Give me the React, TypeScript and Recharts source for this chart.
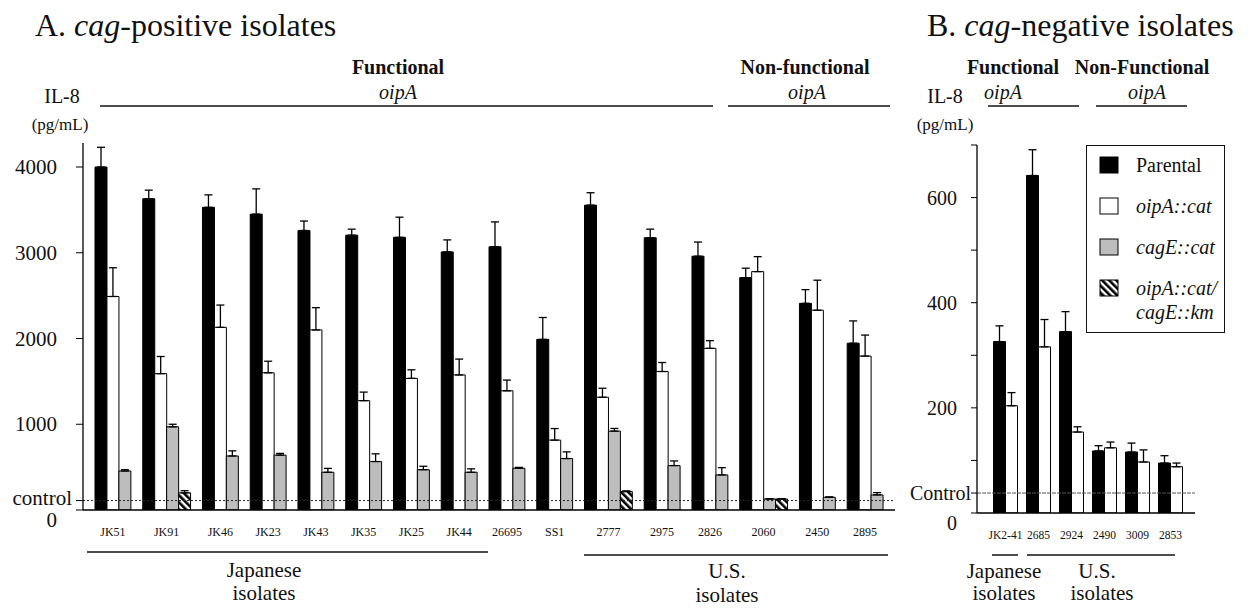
import React from 'react';
import { BarChart, Bar, XAxis, YAxis, ErrorBar, Cell, ReferenceLine } from 'recharts';

const FONT = '"Liberation Serif", "Times New Roman", Times, serif';
const INK = '#111';

// ---------- Panel A: cag-positive isolates ----------
const groupsA = ['JK51', 'JK91', 'JK46', 'JK23', 'JK43', 'JK35', 'JK25', 'JK44', '26695', 'SS1', '2777', '2975', '2826', '2060', '2450', '2895'];
const parentalA = [4000, 3630, 3530, 3450, 3260, 3205, 3180, 3010, 3070, 1990, 3555, 3175, 2960, 2710, 2410, 1945];
const parentalErrA = [230, 100, 145, 295, 110, 70, 235, 140, 290, 255, 145, 100, 165, 110, 160, 260];
const oipACatA = [2490, 1590, 2130, 1600, 2100, 1275, 1535, 1575, 1390, 815, 1315, 1615, 1885, 2780, 2330, 1795];
const oipACatErrA = [335, 200, 260, 135, 260, 100, 100, 185, 125, 135, 105, 105, 90, 175, 350, 245];
const cagECatA = [455, 970, 630, 640, 440, 565, 470, 440, 487, 600, 920, 518, 409, 128, 148, 176];
const cagECatErrA = [15, 30, 60, 20, 45, 90, 40, 40, 10, 78, 31, 54, 85, 4, 5, 27];
const doubleA: (number | null)[] = [null, 200, null, null, null, null, null, null, null, null, 215, null, null, 128, null, null];
const doubleErrA = [0, 25, 0, 0, 0, 0, 0, 0, 0, 0, 8, 0, 0, 4, 0, 0];
const controlA = 110;
const yTicksA = [0, controlA, 1000, 2000, 3000, 4000];

// ---------- Panel B: cag-negative isolates ----------
const groupsB = ['JK2-41', '2685', '2924', '2490', '3009', '2853'];
const parentalB = [326, 642, 345, 118, 116, 95];
const parentalErrB = [30, 49, 38, 10, 17, 14];
const oipACatB = [204, 316, 154, 124, 97, 88];
const oipACatErrB = [25, 52, 10, 11, 23, 7];
const controlB = 38;
const yTicksB = [0, controlB, 100, 200, 300, 400, 500, 600, 700];
const yLabelsB = [200, 400, 600];

// ---------- Legend ----------
type Kind = 'parental' | 'oipA' | 'cagE' | 'double' | 'gap';
const legendKinds: Kind[] = ['parental', 'oipA', 'cagE', 'double'];
const legendLines = [['Parental'], ['oipA::cat'], ['cagE::cat'], ['oipA::cat/', 'cagE::km']];
const legendItalic = [false, true, true, true];

const FILLS: Record<Kind, string> = {
  parental: '#000',
  oipA: '#fff',
  cagE: '#bdbdbd',
  double: 'url(#hatchA)',
  gap: 'none',
};

interface SlotRow {
  slot: string;
  value: number | null;
  err: [number, number] | null;
  kind: Kind;
  label: string;
  shift: boolean;
}

function buildRowsA(): SlotRow[] {
  const rows: SlotRow[] = [];
  groupsA.forEach((g, i) => {
    const bars: { kind: Kind; v: number; e: number }[] = [
      { kind: 'parental', v: parentalA[i], e: parentalErrA[i] },
      { kind: 'oipA', v: oipACatA[i], e: oipACatErrA[i] },
      { kind: 'cagE', v: cagECatA[i], e: cagECatErrA[i] },
    ];
    const d = doubleA[i];
    if (d !== null) bars.push({ kind: 'double', v: d, e: doubleErrA[i] });
    const even = bars.length % 2 === 0;
    const labelAt = even ? bars.length / 2 - 1 : (bars.length - 1) / 2;
    bars.forEach((b, j) =>
      rows.push({
        slot: `${g}#${j}`,
        value: b.v,
        err: [0, b.e],
        kind: b.kind,
        label: j === labelAt ? g : '',
        shift: j === labelAt && even,
      })
    );
    if (i < groupsA.length - 1) {
      rows.push({ slot: `gap#${i}`, value: null, err: null, kind: 'gap', label: '', shift: false });
    }
  });
  return rows;
}

const rowsA = buildRowsA();
const rowBySlot = new Map(rowsA.map((r) => [r.slot, r]));

const rowsB = groupsB.map((g, i) => ({
  name: g,
  parental: parentalB[i],
  parentalErr: [0, parentalErrB[i]],
  oipA: oipACatB[i],
  oipAErr: [0, oipACatErrB[i]],
}));

function HatchDefs({ id }: { id: string }) {
  return (
    <defs>
      <pattern id={id} patternUnits="userSpaceOnUse" width={5} height={5} patternTransform="rotate(-45)">
        <rect x={0} y={0} width={5} height={5} fill="#fff" />
        <rect x={0} y={0} width={2.6} height={5} fill="#000" />
      </pattern>
    </defs>
  );
}

function XTickA(props: any) {
  const { x, y, payload } = props;
  const row = rowBySlot.get(payload?.value);
  if (!row || !row.label) return null;
  const off = row.shift ? Number(payload?.offset ?? 0) : 0;
  return (
    <text x={x + off} y={y} dy={26} textAnchor="middle" fontSize={12} style={{ fontFamily: FONT }} fill={INK}>
      {row.label}
    </text>
  );
}

function YTickA(props: any) {
  const { x, y, payload } = props;
  const v = payload.value;
  let label = String(v);
  let dy = 7;
  let dx = 0;
  if (v === controlA) {
    label = 'control';
    dy = 4;
    dx = 15;
  } else if (v === 0) {
    dy = 17;
  }
  return (
    <text x={x + dx} y={y} dy={dy} textAnchor="end" fontSize={21} style={{ fontFamily: FONT }} fill={INK}>
      {label}
    </text>
  );
}

function XTickB(props: any) {
  const { x, y, payload } = props;
  return (
    <text x={x} y={y} dy={26} textAnchor="middle" fontSize={11.5} style={{ fontFamily: FONT }} fill={INK}>
      {payload.value}
    </text>
  );
}

function YTickB(props: any) {
  const { x, y, payload } = props;
  const v = payload.value;
  let label = '';
  let dy = 7;
  let dx = 0;
  if (v === controlB) {
    label = 'Control';
    dy = 7;
    dx = 14;
  } else if (v === 0) {
    label = '0';
    dy = 17;
  } else if (yLabelsB.includes(v)) {
    label = String(v);
  } else {
    return null;
  }
  return (
    <text x={x + dx} y={y} dy={dy} textAnchor="end" fontSize={20} style={{ fontFamily: FONT }} fill={INK}>
      {label}
    </text>
  );
}

function PanelA() {
  return (
    <div style={{ position: 'absolute', left: 0, top: 0 }}>
      <BarChart
        width={910}
        height={608}
        data={rowsA}
        margin={{ top: 143, right: 15, bottom: 68, left: 0 }}
        barCategoryGap={0}
        barGap={0}
      >
        <HatchDefs id="hatchA" />
        <XAxis
          dataKey="slot"
          type="category"
          interval={0}
          padding={{ left: 12, right: 12 }}
          height={30}
          tickLine={false}
          tickSize={0}
          tickMargin={0}
          axisLine={{ stroke: '#000', strokeWidth: 1.5 }}
          tick={XTickA}
        />
        <YAxis
          width={83}
          domain={[0, 4280]}
          ticks={yTicksA}
          interval={0}
          tickSize={7}
          tickMargin={19}
          axisLine={{ stroke: '#000', strokeWidth: 1.3 }}
          tickLine={{ stroke: '#000', strokeWidth: 1 }}
          tick={YTickA}
          allowDataOverflow
        />
        <Bar dataKey="value" isAnimationActive={false} stroke="#000" strokeWidth={1}>
          {rowsA.map((r) => (
            <Cell key={r.slot} fill={FILLS[r.kind]} />
          ))}
          <ErrorBar dataKey="err" width={4} stroke="#000" strokeWidth={1.3} direction="y" />
        </Bar>
        <ReferenceLine y={controlA} stroke="#222" strokeWidth={1} strokeDasharray="2 2" />
      </BarChart>
    </div>
  );
}

function PanelB() {
  return (
    <div style={{ position: 'absolute', left: 900, top: 0 }}>
      <BarChart
        width={310}
        height={608}
        data={rowsB}
        margin={{ top: 145, right: 15, bottom: 65, left: 0 }}
        barCategoryGap={4.5}
        barGap={0}
      >
        <XAxis
          dataKey="name"
          type="category"
          interval={0}
          padding={{ left: 12, right: 8 }}
          height={30}
          tickLine={false}
          tickSize={0}
          tickMargin={0}
          axisLine={{ stroke: '#000', strokeWidth: 1.5 }}
          tick={XTickB}
        />
        <YAxis
          width={77}
          domain={[0, 700]}
          ticks={yTicksB}
          interval={0}
          tickSize={6}
          tickMargin={14}
          axisLine={{ stroke: '#000', strokeWidth: 1.3 }}
          tickLine={{ stroke: '#000', strokeWidth: 1 }}
          tick={YTickB}
          allowDataOverflow
        />
        <Bar dataKey="parental" isAnimationActive={false} fill={FILLS.parental} stroke="#000" strokeWidth={1}>
          <ErrorBar dataKey="parentalErr" width={4} stroke="#000" strokeWidth={1.3} direction="y" />
        </Bar>
        <Bar dataKey="oipA" isAnimationActive={false} fill={FILLS.oipA} stroke="#000" strokeWidth={1}>
          <ErrorBar dataKey="oipAErr" width={4} stroke="#000" strokeWidth={1.3} direction="y" />
        </Bar>
        <ReferenceLine y={controlB} stroke="#555" strokeWidth={1} strokeDasharray="4 1" />
      </BarChart>
    </div>
  );
}

function LegendBox() {
  return (
    <div
      style={{
        position: 'absolute',
        left: 1086,
        top: 145,
        width: 139,
        height: 188,
        border: '1px solid #111',
        boxSizing: 'border-box',
        background: '#fff',
        fontFamily: FONT,
        color: INK,
      }}
    >
      {legendKinds.map((k, i) => {
        const center = 19 + 41 * i;
        return (
          <div key={k}>
            <svg width={20} height={18} style={{ position: 'absolute', left: 12, top: center - 9 }}>
              <HatchDefs id="hatchLegend" />
              <rect
                x={1}
                y={1}
                width={18}
                height={16}
                fill={k === 'double' ? 'url(#hatchLegend)' : FILLS[k]}
                stroke="#000"
                strokeWidth={1}
              />
            </svg>
            {legendLines[i].map((line, j) => (
              <div
                key={line}
                style={{
                  position: 'absolute',
                  left: 49,
                  top: center - 12 + j * 24,
                  fontSize: 20,
                  lineHeight: '24px',
                  fontStyle: legendItalic[i] ? 'italic' : 'normal',
                  whiteSpace: 'nowrap',
                }}
              >
                {line}
              </div>
            ))}
          </div>
        );
      })}
    </div>
  );
}

function Annotations() {
  const line = { stroke: INK, strokeWidth: 1.5 };
  return (
    <svg
      width={1250}
      height={608}
      style={{ position: 'absolute', left: 0, top: 0, pointerEvents: 'none', fontFamily: FONT }}
      fill={INK}
    >
      <text x={35} y={36} fontSize={32}>
        A. <tspan fontStyle="italic">cag</tspan>-positive isolates
      </text>
      <text x={927} y={36} fontSize={32}>
        B. <tspan fontStyle="italic">cag</tspan>-negative isolates
      </text>

      {/* Panel A header */}
      <text x={62} y={103} fontSize={20} textAnchor="middle">IL-8</text>
      <text x={60} y={130} fontSize={17} textAnchor="middle">(pg/mL)</text>
      <text x={398} y={74} fontSize={20} fontWeight="bold" textAnchor="middle">Functional</text>
      <text x={398} y={99} fontSize={20} fontStyle="italic" textAnchor="middle">oipA</text>
      <line x1={100} x2={713} y1={106} y2={106} {...line} />
      <text x={805} y={74} fontSize={20} fontWeight="bold" textAnchor="middle">Non-functional</text>
      <text x={807} y={99} fontSize={20} fontStyle="italic" textAnchor="middle">oipA</text>
      <line x1={728} x2={890} y1={106} y2={106} {...line} />

      {/* Panel B header */}
      <text x={945} y={103} fontSize={20} textAnchor="middle">IL-8</text>
      <text x={945} y={130} fontSize={17} textAnchor="middle">(pg/mL)</text>
      <text x={1013} y={74} fontSize={20} fontWeight="bold" textAnchor="middle">Functional</text>
      <text x={1142} y={74} fontSize={20} fontWeight="bold" textAnchor="middle">Non-Functional</text>
      <text x={1003} y={99} fontSize={20} fontStyle="italic" textAnchor="middle">oipA</text>
      <text x={1147} y={99} fontSize={20} fontStyle="italic" textAnchor="middle">oipA</text>
      <line x1={988} x2={1079} y1={106} y2={106} {...line} />
      <line x1={1096} x2={1187} y1={106} y2={106} {...line} />

      {/* Panel A footer */}
      <line x1={87} x2={488} y1={552} y2={552} {...line} />
      <text x={264} y={577} fontSize={21} textAnchor="middle">Japanese</text>
      <text x={264} y={600} fontSize={21} textAnchor="middle">isolates</text>
      <line x1={584} x2={888} y1={555} y2={555} {...line} />
      <text x={727} y={578} fontSize={21} textAnchor="middle">U.S.</text>
      <text x={727} y={602} fontSize={21} textAnchor="middle">isolates</text>

      {/* Panel B footer */}
      <line x1={992} x2={1018} y1={555} y2={555} {...line} />
      <line x1={1027} x2={1175} y1={555} y2={555} {...line} />
      <text x={1004} y={578} fontSize={21} textAnchor="middle">Japanese</text>
      <text x={1004} y={600} fontSize={21} textAnchor="middle">isolates</text>
      <text x={1097} y={578} fontSize={21} textAnchor="middle">U.S.</text>
      <text x={1102} y={600} fontSize={21} textAnchor="middle">isolates</text>
    </svg>
  );
}

export default function App() {
  return (
    <div
      style={{
        position: 'absolute',
        left: 0,
        top: 0,
        width: 1250,
        height: 608,
        background: '#fff',
        overflow: 'hidden',
        fontFamily: FONT,
      }}
    >
      <PanelA />
      <PanelB />
      <LegendBox />
      <Annotations />
    </div>
  );
}
